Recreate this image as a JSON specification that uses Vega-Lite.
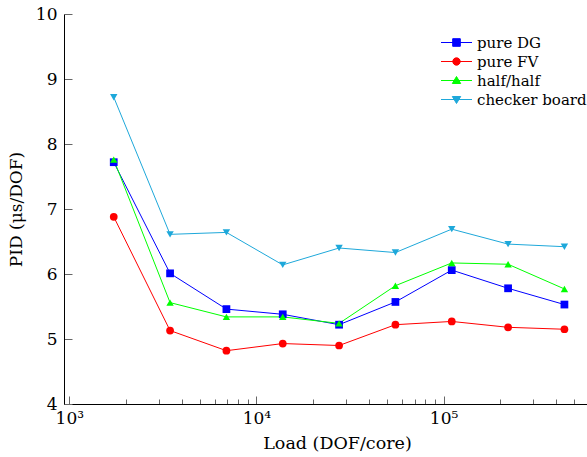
{
  "$schema": "https://vega.github.io/schema/vega-lite/v6.json",
  "width": 523,
  "height": 390,
  "autosize": {"type": "none"},
  "padding": {"left": 64, "top": 14, "right": 0, "bottom": 53},
  "config": {"view": {"stroke": null}, "font": "DejaVu Serif"},
  "data": {
    "values": [
      {"load": 1728, "pid": 7.72, "scheme": "pure DG"},
      {"load": 3456, "pid": 6.01, "scheme": "pure DG"},
      {"load": 6912, "pid": 5.46, "scheme": "pure DG"},
      {"load": 13824, "pid": 5.38, "scheme": "pure DG"},
      {"load": 27648, "pid": 5.22, "scheme": "pure DG"},
      {"load": 55296, "pid": 5.57, "scheme": "pure DG"},
      {"load": 110592, "pid": 6.06, "scheme": "pure DG"},
      {"load": 221184, "pid": 5.78, "scheme": "pure DG"},
      {"load": 442368, "pid": 5.53, "scheme": "pure DG"},
      {"load": 1728, "pid": 6.88, "scheme": "pure FV"},
      {"load": 3456, "pid": 5.13, "scheme": "pure FV"},
      {"load": 6912, "pid": 4.82, "scheme": "pure FV"},
      {"load": 13824, "pid": 4.93, "scheme": "pure FV"},
      {"load": 27648, "pid": 4.9, "scheme": "pure FV"},
      {"load": 55296, "pid": 5.22, "scheme": "pure FV"},
      {"load": 110592, "pid": 5.27, "scheme": "pure FV"},
      {"load": 221184, "pid": 5.18, "scheme": "pure FV"},
      {"load": 442368, "pid": 5.15, "scheme": "pure FV"},
      {"load": 1728, "pid": 7.76, "scheme": "half/half"},
      {"load": 3456, "pid": 5.56, "scheme": "half/half"},
      {"load": 6912, "pid": 5.34, "scheme": "half/half"},
      {"load": 13824, "pid": 5.34, "scheme": "half/half"},
      {"load": 27648, "pid": 5.24, "scheme": "half/half"},
      {"load": 55296, "pid": 5.82, "scheme": "half/half"},
      {"load": 110592, "pid": 6.17, "scheme": "half/half"},
      {"load": 221184, "pid": 6.15, "scheme": "half/half"},
      {"load": 442368, "pid": 5.77, "scheme": "half/half"},
      {"load": 1728, "pid": 8.72, "scheme": "checker board"},
      {"load": 3456, "pid": 6.61, "scheme": "checker board"},
      {"load": 6912, "pid": 6.64, "scheme": "checker board"},
      {"load": 13824, "pid": 6.14, "scheme": "checker board"},
      {"load": 27648, "pid": 6.4, "scheme": "checker board"},
      {"load": 55296, "pid": 6.33, "scheme": "checker board"},
      {"load": 110592, "pid": 6.69, "scheme": "checker board"},
      {"load": 221184, "pid": 6.46, "scheme": "checker board"},
      {"load": 442368, "pid": 6.42, "scheme": "checker board"}
    ]
  },
  "encoding": {
    "x": {
      "field": "load",
      "type": "quantitative",
      "scale": {"type": "log", "domain": [937, 584000], "nice": false},
      "axis": {
        "values": [1000, 2000, 3000, 4000, 5000, 6000, 7000, 8000, 9000, 10000, 20000, 30000, 40000, 50000, 60000, 70000, 80000, 90000, 100000, 200000, 300000, 400000, 500000],
        "labelExpr": "datum.value == 1000 ? '10³' : datum.value == 10000 ? '10⁴' : datum.value == 100000 ? '10⁵' : ''",
        "tickSize": {"condition": {"test": "datum.value == 1000 || datum.value == 10000 || datum.value == 100000", "value": -8}, "value": -5},
        "grid": false,
        "domainColor": "black",
        "tickColor": "#666666",
        "labelColor": "black",
        "labelFontSize": 17,
        "labelPadding": 14,
        "labelOverlap": false,
        "labelFlush": false,
        "title": "Load (DOF/core)",
        "titleFontSize": 17.5,
        "titleFontWeight": "normal",
        "titleColor": "black",
        "titlePadding": 5,
        "titleX": 273
      }
    },
    "y": {
      "field": "pid",
      "type": "quantitative",
      "scale": {"domain": [4, 10], "nice": false},
      "axis": {
        "values": [4, 5, 6, 7, 8, 9, 10],
        "tickSize": -8,
        "grid": false,
        "domainColor": "black",
        "tickColor": "#666666",
        "labelColor": "black",
        "labelFontSize": 17,
        "labelPadding": 15,
        "labelFlush": false,
        "title": "PID (μs/DOF)",
        "titleFontSize": 17,
        "titleFontWeight": "normal",
        "titleColor": "black",
        "titlePadding": 10
      }
    },
    "color": {
      "field": "scheme",
      "type": "nominal",
      "scale": {
        "domain": ["pure DG", "pure FV", "half/half", "checker board"],
        "range": ["#0000ff", "#ff0000", "#00ff00", "#1ea8da"]
      },
      "legend": {
        "title": null,
        "orient": "none",
        "legendX": 382,
        "legendY": 18,
        "padding": 0,
        "symbolSize": 400,
        "rowPadding": -1,
        "labelOffset": 10,
        "labelFontSize": 15,
        "labelColor": "black",
        "symbolStrokeWidth": 1,
        "encode": {
          "symbols": {
            "update": {
              "shape": {"signal": "datum.value === 'pure DG' ? 'M-1.55,0H1.55M-0.38,-0.38H0.38V0.38H-0.38Z' : datum.value === 'pure FV' ? 'M-1.55,0H1.55M-0.37,0A0.37,0.37 0 1,0 0.37,0A0.37,0.37 0 1,0 -0.37,0Z' : datum.value === 'half/half' ? 'M-1.55,0H1.55M0,-0.4L0.42,0.3H-0.42Z' : 'M-1.55,0H1.55M0,0.4L0.42,-0.3H-0.42Z'"},
              "fill": {"scale": "color", "field": "value"},
              "stroke": {"scale": "color", "field": "value"},
              "fillOpacity": {"value": 1},
              "opacity": {"value": 1}
            }
          }
        }
      }
    }
  },
  "layer": [
    {"mark": {"type": "line", "strokeWidth": 1}},
    {
      "transform": [{"filter": "datum.scheme === 'pure DG'"}],
      "mark": {"type": "point", "shape": "square", "filled": true, "size": 60, "opacity": 1}
    },
    {
      "transform": [{"filter": "datum.scheme === 'pure FV'"}],
      "mark": {"type": "point", "shape": "circle", "filled": true, "size": 60, "opacity": 1}
    },
    {
      "transform": [{"filter": "datum.scheme === 'half/half'"}],
      "mark": {"type": "point", "shape": "triangle-up", "filled": true, "size": 55, "opacity": 1}
    },
    {
      "transform": [{"filter": "datum.scheme === 'checker board'"}],
      "mark": {"type": "point", "shape": "triangle-down", "filled": true, "size": 55, "opacity": 1}
    }
  ]
}
